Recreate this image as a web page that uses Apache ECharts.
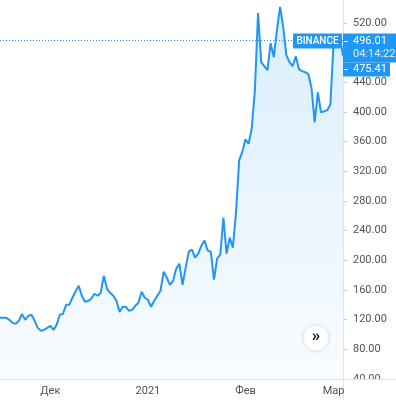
<!DOCTYPE html>
<html><head><meta charset="utf-8">
<script src="https://cdn.jsdelivr.net/npm/echarts@6/dist/echarts.min.js"></script>
<style>html,body{margin:0;padding:0;background:#fff;overflow:hidden}#c{width:396px;height:400px}</style>
</head><body><div id="c"></div>
<script>
// ---- data ----
const startDate = [2020, 10, 15]; // 15 Nov 2020, one value per day
const prices = [
  122.4,122.4,122.4,119.7,115.7,114.3,118.4,127.8,119.7,125.1,126.5,118.4,108.9,104.9,106.2,108.9,
  111.6,106.2,113.0,126.5,127.8,140.0,140.0,149.5,157.6,165.7,152.2,144.1,145.4,148.1,154.9,152.2,
  156.2,179.2,161.6,156.2,152.2,145.4,130.5,137.3,137.3,131.9,133.2,138.6,142.7,157.6,149.5,146.8,
  137.3,145.4,152.2,158.9,184.6,176.5,167.0,172.4,188.6,195.4,167.0,190.0,211.6,214.3,203.5,208.9,
  219.7,226.5,213.0,211.6,173.8,202.2,207.6,257.6,208.9,230.5,217.0,264.3,334.6,346.0,363.0,357.0,
  378.0,429.2,533.2,467.0,461.6,456.2,492.7,473.8,510.3,541.4,514.3,476.5,467.0,461.6,475.1,457.6,
  454.9,453.5,450.8,431.9,385.9,426.5,399.5,400.8,402.2,410.3,492.7,499.5,502.2,475.41
];
const xTickDates = ['2020-12-01','2021-01-01','2021-02-01','2021-03-01'];
const xTickLabels = ['Дек','2021','Фев','Мар'];
const yTicks = [40,80,120,160,200,240,280,320,360,400,440,480,520];
const lastPrice = 496.01;
const countdown = '04:14:22';
const closePrice = 475.41;
const exchangeName = 'BINANCE';

// ---- build ----
const DAY = 86400000;
const t0 = Date.UTC(startDate[0], startDate[1], startDate[2]);
const dates = prices.map((v, i) => new Date(t0 + i * DAY).toISOString().slice(0, 10));
const FONT = 'Roboto, "Noto Sans", sans-serif';
const BLUE = '#2196f3';
const yMin = yTicks[0], yStep = yTicks[1] - yTicks[0];

const chart = echarts.init(document.getElementById('c'), null, {renderer: 'canvas'});
chart.setOption({
  animation: false,
  backgroundColor: '#ffffff',
  grid: {left: 0, right: 53, top: 0, bottom: 21, containLabel: false},
  xAxis: {
    type: 'category', data: dates, boundaryGap: false, z: 60,
    axisLine: {show: false},
    axisTick: {show: false},
    splitLine: {show: false},
    axisLabel: {
      interval: (i, v) => xTickDates.indexOf(v) >= 0,
      color: '#50535e', fontSize: 11, fontFamily: FONT, margin: 7,
      formatter: v => xTickLabels[xTickDates.indexOf(v)] || ''
    }
  },
  yAxis: {
    type: 'value', position: 'right', z: 1,
    min: yMin, max: yMin + 378 / 0.74, interval: yStep,
    axisLine: {show: false},
    axisTick: {show: true, length: 4, lineStyle: {color: '#c9ccd3'}},
    splitLine: {show: false},
    axisLabel: {
      showMaxLabel: false, color: '#50535e', fontSize: 11, fontFamily: FONT, margin: 10,
      formatter: v => yTicks.indexOf(Math.round(v)) >= 0 ? v.toFixed(2) : ''
    }
  },
  series: [{
    type: 'line', data: prices, showSymbol: false, z: 3,
    lineStyle: {color: BLUE, width: 2},
    itemStyle: {color: BLUE},
    areaStyle: {
      color: new echarts.graphic.LinearGradient(0, 0, 0, 1, [
        {offset: 0, color: 'rgba(33,150,243,0.24)'},
        {offset: 1, color: 'rgba(33,150,243,0.04)'}
      ])
    },
    markLine: {
      silent: true, symbol: 'none', label: {show: false},
      lineStyle: {color: BLUE, type: [1, 2], width: 1},
      data: [{yAxis: lastPrice}]
    }
  }]
});

const yL = Math.round(chart.convertToPixel({yAxisIndex: 0}, lastPrice)) + 0.5;
chart.setOption({
  graphic: [
    {type: 'rect', z: 50, shape: {x: 0, y: 379.5, width: 396, height: 21}, style: {fill: '#fff'}},
    {type: 'line', z: 55, shape: {x1: 0, y1: 379.5, x2: 396, y2: 379.5}, style: {stroke: '#e0e3eb', lineWidth: 1}},
    {type: 'line', z: 55, shape: {x1: 343.5, y1: 0, x2: 343.5, y2: 400}, style: {stroke: '#e0e3eb', lineWidth: 1}},
    // exchange tag
    {type: 'rect', z: 70, shape: {x: 293, y: yL - 8, width: 49, height: 15, r: 1}, style: {fill: BLUE}},
    {type: 'text', z: 71, x: 317.5, y: yL, style: {text: exchangeName, fill: '#fff', font: '500 10px ' + FONT, align: 'center', verticalAlign: 'middle'}},
    // last price tag
    {type: 'rect', z: 70, shape: {x: 343, y: yL - 8, width: 53, height: 29}, style: {fill: BLUE}},
    {type: 'line', z: 71, shape: {x1: 344, y1: yL, x2: 348, y2: yL}, style: {stroke: '#fff', lineWidth: 1}},
    {type: 'text', z: 71, x: 353, y: yL, style: {text: lastPrice.toFixed(2), fill: '#fff', font: '11px ' + FONT, align: 'left', verticalAlign: 'middle'}},
    {type: 'text', z: 71, x: 353, y: yL + 13, style: {text: countdown, fill: 'rgba(255,255,255,0.85)', font: '11px ' + FONT, align: 'left', verticalAlign: 'middle'}},
    // close price tag
    {type: 'rect', z: 70, shape: {x: 343, y: yL + 21, width: 47, height: 14}, style: {fill: BLUE}},
    {type: 'line', z: 71, shape: {x1: 344, y1: yL + 28, x2: 348, y2: yL + 28}, style: {stroke: '#fff', lineWidth: 1}},
    {type: 'text', z: 71, x: 353, y: yL + 28, style: {text: closePrice.toFixed(2), fill: '#fff', font: '11px ' + FONT, align: 'left', verticalAlign: 'middle'}},
    // scroll button
    {type: 'circle', z: 70, shape: {cx: 316, cy: 338, r: 13}, style: {fill: '#fff', stroke: '#e6e8ee', lineWidth: 1, shadowBlur: 4, shadowColor: 'rgba(0,0,0,0.08)'}},
    {type: 'text', z: 71, x: 316, y: 337, style: {text: '»', fill: '#131722', font: 'bold 17px ' + FONT, align: 'center', verticalAlign: 'middle'}}
  ]
});
</script>
</body></html>
